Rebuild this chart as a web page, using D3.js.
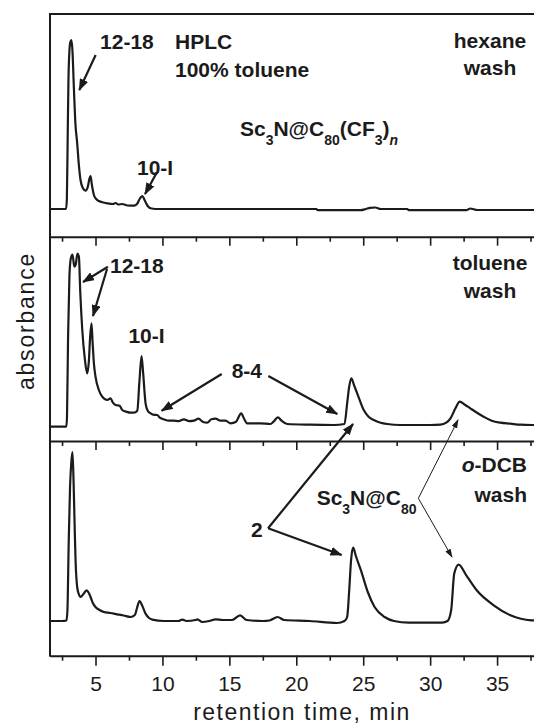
<!DOCTYPE html>
<html>
<head>
<meta charset="utf-8">
<script src="https://cdn.jsdelivr.net/npm/d3@7"></script>
<style>
  html, body { margin: 0; padding: 0; background: #fff; overflow: hidden; }
  svg { display: block; }
  text { font-family: "Liberation Sans", Arial, Helvetica, sans-serif; fill: #1b1b1b; }
</style>
</head>
<body>
<svg id="chart" width="534" height="725"></svg>
<script>
// HPLC traces of the three washes: [retention time (min), absorbance (a.u., above baseline)]
const hexaneTrace = [
  [1.6,0],[2.5,0],[2.8,0],[2.86,0.1],[2.92,0.7],[2.98,1.3],[3.05,1.58],[3.12,1.67],[3.2,1.69],
  [3.27,1.6],[3.39,1.19],[3.5,0.85],[3.63,0.66],[3.75,0.45],[3.88,0.29],[4.05,0.21],[4.26,0.183],
  [4.42,0.22],[4.54,0.3],[4.63,0.33],[4.72,0.25],[4.88,0.14],[5.05,0.1],[5.25,0.08],[5.6,0.065],
  [5.88,0.057],[6.3,0.05],[6.5,0.06],[6.7,0.045],[7.0,0.05],[7.4,0.035],[7.87,0.033],[8.1,0.05],
  [8.3,0.1],[8.49,0.13],[8.7,0.08],[8.9,0.03],[9.11,0.007],[9.5,0],[12,0],[16,0],[21.5,0],
  [21.6,-0.012],[24.8,-0.012],[25.2,0],[25.5,0.012],[25.9,0.015],[26.3,0],[28.3,0],[28.4,-0.012],
  [32.7,-0.012],[33.0,0.005],[33.3,-0.005],[33.5,-0.01],[37,-0.01],[40,-0.01]
];

const tolueneTrace = [
  [1.6,0],[2.5,0],[2.82,0],[2.87,0.1],[2.95,0.9],[3.05,1.5],[3.15,1.68],[3.28,1.72],[3.42,1.6],
  [3.52,1.62],[3.65,1.73],[3.76,1.7],[3.86,1.35],[4.01,0.97],[4.2,0.68],[4.38,0.533],[4.5,0.65],
  [4.6,0.9],[4.7,1.033],[4.78,0.85],[4.88,0.634],[5.0,0.5],[5.25,0.367],[5.5,0.3],[5.88,0.267],
  [6.12,0.284],[6.3,0.24],[6.5,0.217],[6.8,0.21],[7.0,0.167],[7.3,0.15],[7.6,0.14],[7.87,0.14],
  [8.12,0.16],[8.28,0.45],[8.44,0.707],[8.55,0.55],[8.74,0.234],[8.9,0.16],[9.11,0.134],[9.3,0.12],
  [9.61,0.117],[9.8,0.09],[10.1,0.074],[10.5,0.06],[10.85,0.06],[11.2,0.055],[11.6,0.074],
  [12.0,0.055],[12.35,0.06],[12.7,0.08],[13.0,0.05],[13.35,0.04],[13.65,0.074],[13.97,0.08],
  [14.34,0.06],[14.71,0.06],[15.09,0.034],[15.5,0.05],[15.88,0.134],[16.1,0.08],[16.33,0.034],
  [17.33,0.034],[18.07,0.027],[18.3,0.05],[18.62,0.094],[18.9,0.06],[19.32,0.027],[21,0.02],
  [22.8,0.017],[23.6,0.027],[23.8,0.234],[23.95,0.4],[24.12,0.484],[24.3,0.42],[24.55,0.334],
  [25.04,0.167],[25.4,0.1],[25.79,0.067],[26.3,0.04],[26.79,0.027],[27.78,0.017],[30.0,0.017],
  [30.77,0.02],[31.2,0.04],[31.52,0.084],[31.89,0.184],[32.21,0.25],[32.6,0.22],[33.0,0.184],
  [33.5,0.14],[34.0,0.1],[34.6,0.06],[35.25,0.04],[36.0,0.03],[36.74,0.02],[37.7,0.017],[40,0.015]
];

const dcbTrace = [
  [1.6,0],[2.5,0],[2.83,0.005],[2.9,0.1],[3.0,0.8],[3.1,1.35],[3.2,1.6],[3.28,1.69],[3.36,1.4],
  [3.45,0.9],[3.51,0.607],[3.63,0.34],[3.75,0.27],[3.88,0.24],[4.1,0.27],[4.33,0.307],[4.5,0.28],
  [4.63,0.24],[4.8,0.18],[5.0,0.14],[5.3,0.11],[5.62,0.09],[6.1,0.08],[6.62,0.067],[7.1,0.055],
  [7.62,0.04],[7.94,0.06],[8.1,0.13],[8.29,0.2],[8.5,0.15],[8.74,0.074],[9.0,0.03],[9.24,0.014],
  [10.1,0],[11.2,0],[11.48,0.014],[11.8,0],[12.47,0.01],[12.6,0.016],[12.97,-0.01],[13.5,0],
  [13.97,0.017],[14.5,0.01],[15.2,0.01],[15.8,0.057],[16.3,0.01],[17.5,0],[18.0,0.005],[18.6,0.04],
  [19.1,0.01],[21,0],[23.05,-0.02],[23.6,0],[23.8,0.04],[23.95,0.3],[24.1,0.62],[24.25,0.734],
  [24.45,0.65],[24.83,0.507],[25.34,0.29],[25.85,0.14],[26.6,0.04],[27.3,0],[28.4,-0.016],
  [30.9,-0.016],[31.3,0],[31.57,0.107],[31.8,0.474],[32.13,0.564],[32.7,0.457],[33.48,0.307],
  [34.75,0.157],[36.0,0.057],[37.55,0.007],[40,0]
];

const traces = [hexaneTrace, tolueneTrace, dcbTrace];
const majorTicks = [5, 10, 15, 20, 25, 30, 35];
const minorTicks = [2.5, 7.5, 12.5, 17.5, 22.5, 27.5, 32.5, 37.5];
const timeDomain = [1.6, 40];
// vertical extent of each stacked panel, in absorbance units
const absDomains = [[-0.277, 1.95], [-0.143, 1.9], [-0.347, 1.8]];

const svg = d3.select("#chart");
const ink = "#1b1b1b";

const x = d3.scaleLinear().domain(timeDomain).range([50, 564]);
const panelTop = [14, 236.7, 441];
const panelBottom = [236.7, 441, 655.7];
const ys = absDomains.map((dom, i) =>
  d3.scaleLinear().domain(dom).range([panelBottom[i], panelTop[i]]));

// arrowheads
const defs = svg.append("defs");
function marker(id, len, half) {
  defs.append("marker")
    .attr("id", id)
    .attr("viewBox", `0 ${-half} ${len} ${2 * half}`)
    .attr("refX", len - 1).attr("refY", 0)
    .attr("markerWidth", len).attr("markerHeight", 2 * half)
    .attr("markerUnits", "userSpaceOnUse")
    .attr("orient", "auto")
    .append("path")
    .attr("d", `M0,${-half}L${len},0L0,${half}Z`)
    .attr("fill", ink);
}
marker("headBold", 12, 4.5);
marker("headThin", 9, 3);

// frame: top edge and left edge
svg.append("line").attr("x1", x.range()[0]).attr("x2", x.range()[1])
  .attr("y1", panelTop[0]).attr("y2", panelTop[0])
  .attr("stroke", ink).attr("stroke-width", 2);
svg.append("line").attr("x1", x.range()[0]).attr("x2", x.range()[0])
  .attr("y1", panelTop[0] - 1).attr("y2", panelBottom[2] + 1)
  .attr("stroke", ink).attr("stroke-width", 2);

// bottom axis of each panel (ticks point outward/down)
ys.forEach((y, i) => {
  const last = i === ys.length - 1;
  const g = svg.append("g").attr("transform", `translate(0,${panelBottom[i]})`);
  const minor = g.append("g").call(
    d3.axisBottom(x).tickValues(minorTicks).tickSize(5).tickSizeOuter(0).tickFormat(""));
  const major = g.append("g").call(
    d3.axisBottom(x).tickValues(majorTicks).tickSize(last ? 10 : 9).tickSizeOuter(0)
      .tickPadding(10).tickFormat(last ? d3.format("d") : ""));
  [minor, major].forEach(a => {
    a.select(".domain").attr("stroke", ink).attr("stroke-width", 2);
    a.selectAll(".tick line").attr("stroke", ink).attr("stroke-width", 1.6);
    a.selectAll(".tick text").attr("font-size", 21).attr("fill", ink)
      .style("font-family", '"Liberation Sans", Arial, sans-serif');
  });
  minor.select(".domain").remove();
});

// traces
traces.forEach((tr, i) => {
  const line = d3.line().x(d => x(d[0])).y(d => ys[i](d[1])).curve(d3.curveMonotoneX);
  svg.append("path").datum(tr)
    .attr("d", line)
    .attr("fill", "none").attr("stroke", ink)
    .attr("stroke-width", 2.2).attr("stroke-linejoin", "round");
});

// axis titles
svg.append("text")
  .attr("transform", "translate(34,321) rotate(-90)")
  .attr("text-anchor", "middle").attr("font-size", 23)
  .attr("letter-spacing", 1.8)
  .text("absorbance");
svg.append("text")
  .attr("x", 302).attr("y", 720)
  .attr("text-anchor", "middle").attr("font-size", 23)
  .attr("letter-spacing", 1.5)
  .text("retention time, min");

// labels: [panel, time, absorbance, anchor, segments]; a segment is
// [text, "sub" | "" , italic]
const labels = [
  [0, 5.34, 1.6, "start", [["12-18"]]],
  [0, 10.94, 1.605, "start", [["HPLC"]]],
  [0, 10.94, 1.325, "start", [["100% toluene"]]],
  [0, 34.47, 1.61, "middle", [["hexane"]]],
  [0, 34.47, 1.34, "middle", [["wash"]]],
  [0, 15.79, 0.735, "start", [["Sc"], ["3", "sub"], ["N@C"], ["80", "sub"], ["(CF"], ["3", "sub"], [")"], ["n", "sub", true]]],
  [0, 8.1, 0.34, "start", [["10-I"]]],
  [1, 6.08, 1.54, "start", [["12-18"]]],
  [1, 7.46, 0.837, "start", [["10-I"]]],
  [1, 15.17, 0.484, "start", [["8-4"]]],
  [1, 34.47, 1.567, "middle", [["toluene"]]],
  [1, 34.47, 1.287, "middle", [["wash"]]],
  [2, 16.62, 0.84, "start", [["2"]]],
  [2, 21.52, 1.16, "start", [["Sc"], ["3", "sub"], ["N@C"], ["80", "sub"]]],
  [2, 37.24, 1.493, "end", [["o", "", true], ["-DCB"]]],
  [2, 37.24, 1.193, "end", [["wash"]]]
];

labels.forEach(([p, t, a, anchor, segs]) => {
  const txt = svg.append("text")
    .attr("x", x(t)).attr("y", ys[p](a))
    .attr("text-anchor", anchor)
    .attr("font-size", 21).attr("font-weight", "bold");
  let lowered = false;
  segs.forEach(([s, kind, italic]) => {
    const span = txt.append("tspan").text(s);
    if (kind === "sub") {
      span.attr("font-size", 14);
      if (!lowered) { span.attr("dy", 9); lowered = true; }
    } else if (lowered) {
      span.attr("dy", -9); lowered = false;
    }
    if (italic) span.attr("font-style", "italic");
  });
});

// arrows: [panel, [t0, a0], [t1, a1], thin]
const arrows = [
  [0, [5.01, 1.54], [3.79, 1.19], false],
  [0, [9.57, 0.363], [8.70, 0.15], false],
  [1, [5.93, 1.6], [4.07, 1.447], false],
  [1, [5.86, 1.577], [4.81, 1.107], false],
  [1, [14.43, 0.527], [9.94, 0.16], false],
  [1, [17.91, 0.507], [23.06, 0.127], false],
  [2, [17.89, 0.927], [24.24, 1.97], false],
  [2, [17.89, 0.927], [23.38, 0.66], false],
  [2, [29.12, 1.227], [32.08, 2.01], true],
  [2, [29.12, 1.227], [31.63, 0.64], true]
];

arrows.forEach(([p, from, to, thin]) => {
  svg.append("line")
    .attr("x1", x(from[0])).attr("y1", ys[p](from[1]))
    .attr("x2", x(to[0])).attr("y2", ys[p](to[1]))
    .attr("stroke", ink)
    .attr("stroke-width", thin ? 1 : 2.2)
    .attr("marker-end", `url(#${thin ? "headThin" : "headBold"})`);
});
</script>
</body>
</html>
